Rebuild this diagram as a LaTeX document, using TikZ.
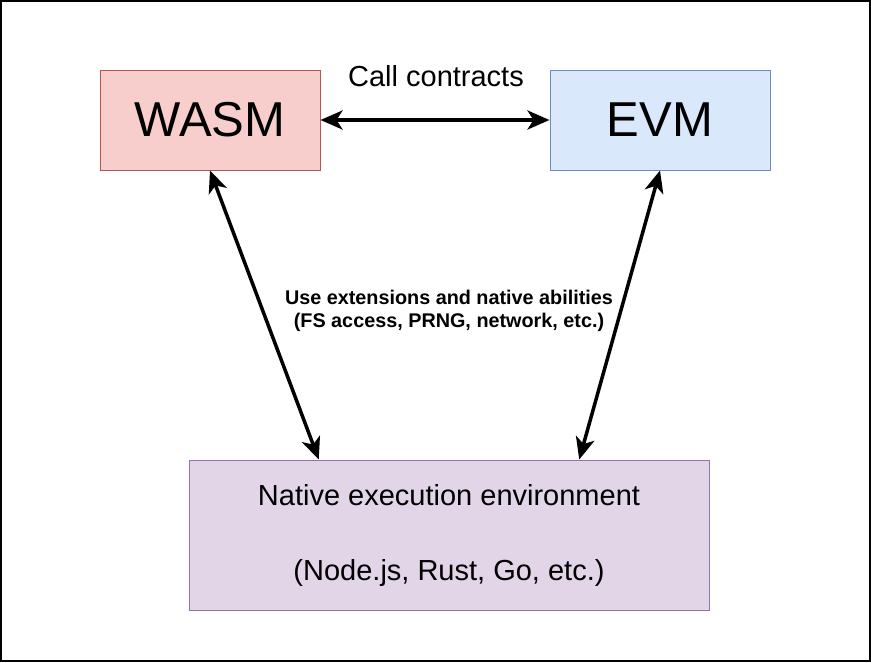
\documentclass[tikz,border=0pt]{standalone}
\usepackage{fontspec}
\setmainfont{Liberation Sans}
\usetikzlibrary{arrows.meta,calc}

\begin{document}
\begin{tikzpicture}[x=1pt,y=-1pt,
    vmbox/.style={draw,line width=1pt,minimum width=220pt,minimum height=100pt,inner sep=0pt},
    both/.style={{Stealth[length=22pt,width=19pt,inset=6pt]}-{Stealth[length=22pt,width=19pt,inset=6pt]},line width=3.5pt}]
            \draw [line width=2pt] (1,1) rectangle (870,661);
            \node [vmbox,fill={rgb,255:red,248;green,206;blue,204},draw={rgb,255:red,184;green,84;blue,80},font=\fontsize{49}{55}\selectfont] (wasm) at (210,120) {WASM};
            \node [vmbox,fill={rgb,255:red,218;green,232;blue,252},draw={rgb,255:red,108;green,142;blue,191},font=\fontsize{49}{55}\selectfont] (evm) at (660,120) {EVM};
            \node [draw={rgb,255:red,150;green,115;blue,166},fill={rgb,255:red,225;green,213;blue,231},line width=1pt,minimum width=520pt,minimum height=150pt,align=center,font=\fontsize{29}{37.5}\selectfont] (native) at (449,535) {Native execution environment\\ \\(Node.js, Rust, Go, etc.)};
            \draw [both] (wasm.east) -- (evm.west);
            \node [font=\fontsize{29}{32}\selectfont] (call) at (436,76) {Call contracts};
            \draw [both] (wasm.south) -- ($(native.north west)!0.25!(native.north east)$);
            \draw [both] (evm.south) -- ($(native.north west)!0.75!(native.north east)$);
            \node [align=center,font=\bfseries\fontsize{19.8}{23}\selectfont] (ext) at (449,311) {Use extensions and native abilities\\(FS access, PRNG, network, etc.)};
        \end{tikzpicture}
\end{document}
